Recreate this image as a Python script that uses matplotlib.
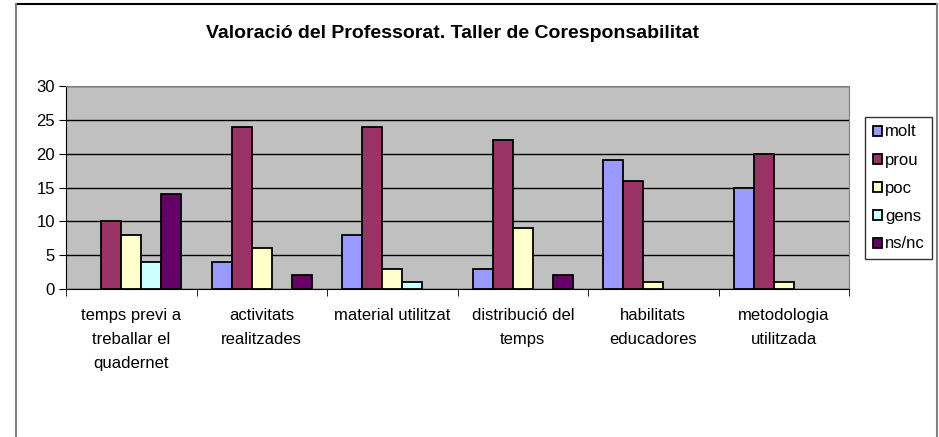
import numpy as np
import matplotlib
matplotlib.use('Agg')
import matplotlib.pyplot as plt
from matplotlib.lines import Line2D

# Dades del gràfic
categories = ['temps previ a\ntreballar el\nquadernet', 'activitats\nrealitzades',
              'material utilitzat', 'distribució del\ntemps', 'habilitats\neducadores',
              'metodologia\nutilitzada']
series_names = ['molt', 'prou', 'poc', 'gens', 'ns/nc']
molt = [0, 4, 8, 3, 19, 15]
prou = [10, 24, 24, 22, 16, 20]
poc = [8, 6, 3, 9, 1, 1]
gens = [4, 0, 1, 0, 0, 0]
nsnc = [14, 2, 0, 2, 0, 0]
colors = ['#9999FF', '#993366', '#FFFFCC', '#CCFFFF', '#660066']

plt.rcParams['font.family'] = ['Liberation Sans', 'DejaVu Sans']

W, H = 939, 437
fig = plt.figure(figsize=(W / 100, H / 100), dpi=100)
ax = fig.add_axes([66 / W, 1 - 289 / H, 783 / W, 203 / H])

x = np.arange(len(categories))
bw = 0.153
data = [molt, prou, poc, gens, nsnc]
for i, (vals, c, name) in enumerate(zip(data, colors, series_names)):
    vals = np.array(vals, dtype=float)
    keep = vals > 0  # Excel no dibuixa les barres amb valor 0
    ax.bar(x[keep] + (i - 2) * bw, vals[keep], width=bw, color=c, edgecolor='black',
           linewidth=1.3, label=name, zorder=3)

ax.set_facecolor('#C0C0C0')
ax.set_xlim(-0.5, len(categories) - 0.5)
ax.set_ylim(0, 30)
ax.set_yticks(range(0, 31, 5))
ax.yaxis.grid(True, color='black', linewidth=1, zorder=1)
ax.set_axisbelow(True)
ax.set_xticks(x)
ax.set_xticklabels(categories, fontsize=12, linespacing=1.72)
ax.set_xticks(np.arange(-0.5, len(categories), 1), minor=True)
ax.tick_params(axis='x', which='major', length=0, pad=14)
ax.tick_params(axis='x', which='minor', length=5, color='black')
ax.tick_params(axis='y', length=5, labelsize=12, color='black', pad=3)
for side in ['top', 'right']:
    ax.spines[side].set_color('#808080')
for side in ['left', 'bottom']:
    ax.spines[side].set_color('black')

fig.text(452 / W, 1 - 33 / H, 'Valoració del Professorat. Taller de Coresponsabilitat',
         ha='center', va='center', fontsize=14, fontweight='bold')

leg = fig.legend(loc='upper left', bbox_to_anchor=(865 / W, 1 - 117 / H),
                 fontsize=12, frameon=True, fancybox=False, edgecolor='black',
                 handlelength=0.55, handleheight=0.55, handletextpad=0.2,
                 labelspacing=0.78, borderpad=0.45, borderaxespad=0)
leg.get_frame().set_linewidth(1)

# marc exterior del gràfic
fig.add_artist(Line2D([16 / W, 937 / W], [1 - 4 / H, 1 - 4 / H], color='black', lw=1.5))
fig.add_artist(Line2D([16 / W, 16 / W], [0, 1 - 4 / H], color='#808080', lw=1.5))
fig.add_artist(Line2D([937 / W, 937 / W], [0, 1 - 4 / H], color='#808080', lw=1.5))

fig.savefig('out.png', dpi=100)
